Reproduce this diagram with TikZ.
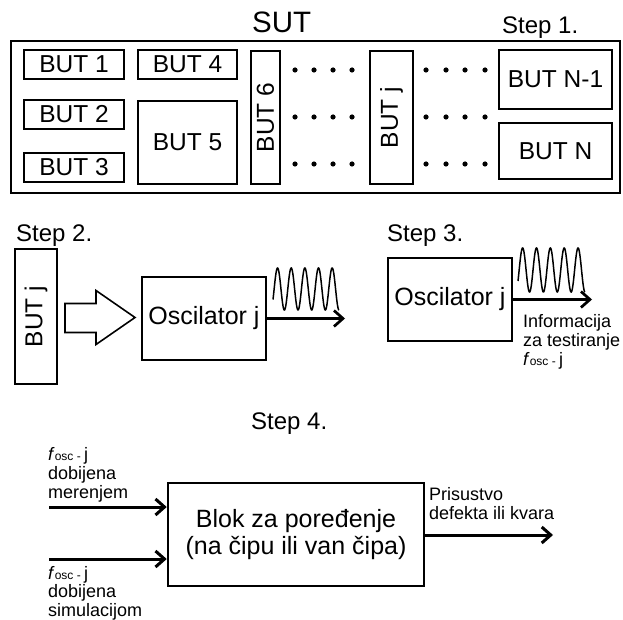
\documentclass[tikz,border=0pt]{standalone}
\usepackage{fontspec}
\setmainfont{Liberation Sans}
\usetikzlibrary{arrows.meta,positioning,calc}
\newcommand{\fosc}{\textit{f}{\fontsize{12}{12}\selectfont osc - }j}

\begin{document}
\begin{tikzpicture}[x=1pt, y=-1pt, >={Straight Barb[length=9pt,width=16pt]},
  every node/.style={inner sep=0pt},
  box/.style={draw, line width=2pt},
  but/.style={box, font=\fontsize{24.5}{26}\selectfont},
  steplabel/.style={anchor=base west, font=\fontsize{24}{26}\selectfont},
  note/.style={anchor=north west, align=left, font=\fontsize{18}{19}\selectfont},
  wire/.style={->, line width=3pt},
  wave/.style={line width=1.5pt, domain=-30:1710, samples=200, smooth}]
\useasboundingbox (0,0) rectangle (623,620);

% Step 1
\node[box, minimum width=609, minimum height=152] (sut) at (315.5,117) {};
\node[anchor=base west, font=\fontsize{29.5}{30}\selectfont] (sutlabel) at (252,33) {SUT};
\node[steplabel] (step1) at (502,33.5) {Step 1.};
\node[but, minimum width=100, minimum height=29] (but1) at (74,64.5) {BUT 1};
\node[but, minimum width=100, minimum height=29] (but2) at (74,114.5) {BUT 2};
\node[but, minimum width=100, minimum height=29] (but3) at (74,167.5) {BUT 3};
\node[but, minimum width=99, minimum height=29] (but4) at (187.5,64.5) {BUT 4};
\node[but, minimum width=99, minimum height=83] (but5) at (187.5,142.5) {BUT 5};
\node[but, rotate=90, minimum width=133, minimum height=29] (but6) at (265.5,117.5) {BUT 6};
\node[but, rotate=90, minimum width=133, minimum height=43] (butj) at (391.5,117.5) {BUT j};
\node[but, minimum width=113, minimum height=59] (butn1) at (555.5,79.5) {BUT N-1};
\node[but, minimum width=113, minimum height=56] (butn) at (555.5,151) {BUT N};
\foreach \dx in {295,314,333,352,426,446,465,485}
  \foreach \dy in {70,117,164}
    \fill (\dx,\dy) circle (2.6);

% Step 2
\node[steplabel] (step2) at (16,241) {Step 2.};
\node[but, rotate=90, minimum width=135, minimum height=42] (butj2) at (36,316.5) {BUT j};
\node[box, minimum width=124, minimum height=83, font=\fontsize{25}{27}\selectfont] (osc2) at (204,318.5) {Oscilator j};
\coordinate (tip2) at ($(osc2.west)+(-6,-1)$);
\draw[line width=1.6pt, line join=miter] (tip2) -- ++(-39,-27) -- ++(0,13) -- ++(-31,0)
  -- ++(0,29) -- ++(31,0) -- ++(0,12) -- cycle;
\coordinate (out2) at (345,318.5);
\draw[wire, line width=2.7pt] (osc2.east) -- (out2);
\draw[wave] plot ({273+(\x+30)/1740*66}, {289-21*sin(\x)});

% Step 3
\node[steplabel] (step3) at (387,241) {Step 3.};
\node[box, minimum width=124, minimum height=83, font=\fontsize{25}{27}\selectfont] (osc3) at (450,299.5) {Oscilator j};
\coordinate (out3) at (592,299.5);
\draw[wire, line width=2.7pt] (osc3.east) -- (out3);
\draw[wave] plot ({518+(\x+30)/1740*67}, {270-22*sin(\x)});
\node[note] (info) at (523,314) {Informacija\\za testiranje\\\fosc};

% Step 4
\node[steplabel] (step4) at (251,429) {Step 4.};
\node[box, line width=2.5pt, minimum width=256, minimum height=103, align=center,
  font=\fontsize{25}{27}\selectfont] (blok) at (296,534.5) {Blok za poređenje\\(na čipu ili van čipa)};
\coordinate (in1) at (49,507);
\coordinate (in2) at (49,559);
\coordinate (out4) at (553,535);
\draw[wire] (in1) -- (in1 -| blok.west);
\draw[wire] (in2) -- (in2 -| blok.west);
\draw[wire] (blok.east |- out4) -- (out4);
\node[note] (meas) at (48,447) {\fosc\\dobijena\\merenjem};
\node[note, font=\fontsize{18}{18.5}\selectfont] (sim) at (48,566) {\fosc\\dobijena\\simulacijom};
\node[note] (result) at (429,487) {Prisustvo\\defekta ili kvara};
\end{tikzpicture}
\end{document}
